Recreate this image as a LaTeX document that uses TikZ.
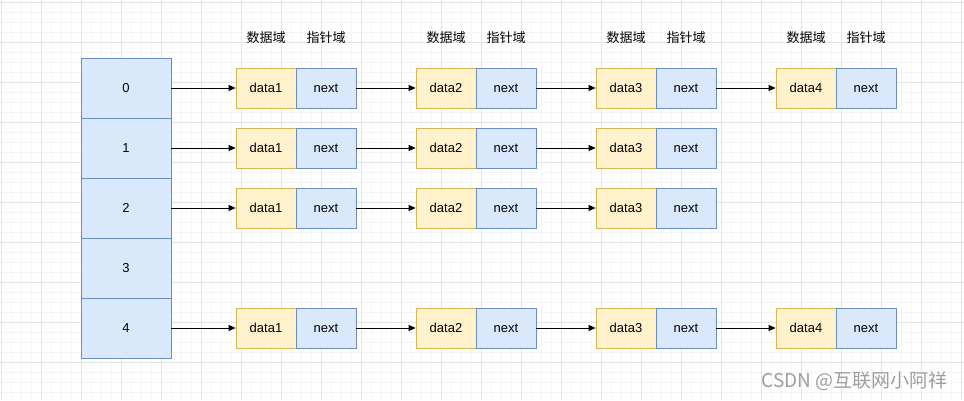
\documentclass[tikz,border=0pt]{standalone}
\usepackage{fontspec}
\setmainfont{Liberation Sans}
\newfontfamily\cjk{Noto Sans CJK SC}
\usetikzlibrary{arrows.meta}
\definecolor{bluefill}{HTML}{DAE8FC}
\definecolor{bluedraw}{HTML}{6C8EBF}
\definecolor{yelfill}{HTML}{FFF2CC}
\definecolor{yeldraw}{HTML}{D6B656}
\begin{document}
\begin{tikzpicture}[x=1pt,y=-1pt,
  cell/.style={draw=bluedraw,fill=bluefill,line width=0.8pt,minimum width=90pt,minimum height=60pt,inner sep=0pt,font=\fontsize{13}{15}\selectfont},
  datbox/.style={draw=yeldraw,fill=yelfill,line width=0.8pt,minimum width=60pt,minimum height=40pt,inner sep=0pt,font=\fontsize{13}{15}\selectfont},
  nxtbox/.style={draw=bluedraw,fill=bluefill,line width=0.8pt,minimum width=60pt,minimum height=40pt,inner sep=0pt,font=\fontsize{13}{15}\selectfont},
  hdr/.style={font=\cjk\fontsize{13}{15}\selectfont,inner sep=0pt},
  link/.style={-{Triangle[length=7pt,width=6pt]},line width=0.8pt,black}
]
\useasboundingbox (0,0) rectangle (964,400);
\fill[white] (0,0) rectangle (964,400);
% grid
\foreach \i in {0,...,96} { \draw[color=black!4,line width=0.5pt] ({1+10*\i},0) -- ({1+10*\i},400); }
\foreach \j in {0,...,40} { \draw[color=black!4,line width=0.5pt] (0,{2+10*\j}) -- (964,{2+10*\j}); }
\foreach \i in {0,...,24} { \draw[color=black!11,line width=0.6pt] ({1+40*\i},0) -- ({1+40*\i},400); }
\foreach \j in {0,...,10} { \draw[color=black!11,line width=0.6pt] (0,{2+40*\j}) -- (964,{2+40*\j}); }
% array
\foreach \k in {0,...,4} { \node[cell] (a\k) at (126,{88+60*\k}) {\k}; }
% headers
\foreach \c/\x in {1/266,2/446,3/626,4/806} {
  \node[hdr] (hd\c) at (\x,38) {数据域};
  \node[hdr] (hp\c) at ({\x+60},38) {指针域};
}
% lists
\foreach \r/\y/\n in {0/88/4,1/148/3,2/208/3,4/328/4} {
  \foreach \c in {1,...,\n} {
    \node[datbox] (d\r\c) at ({266+180*(\c-1)},\y) {data\c};
    \node[nxtbox] (n\r\c) at ({326+180*(\c-1)},\y) {next};
  }
  \draw[link] (a\r.east) -- (d\r1.west);
  \foreach \c [evaluate=\c as \p using int(\c-1)] in {2,...,\n} {
    \draw[link] (n\r\p.east) -- (d\r\c.west);
  }
}
% watermark
\node[font=\cjk\fontsize{19}{22}\selectfont,text=black!38,anchor=east,inner sep=0pt] (wm) at (948,381) {CSDN @互联网小阿祥};
\end{tikzpicture}
\end{document}
